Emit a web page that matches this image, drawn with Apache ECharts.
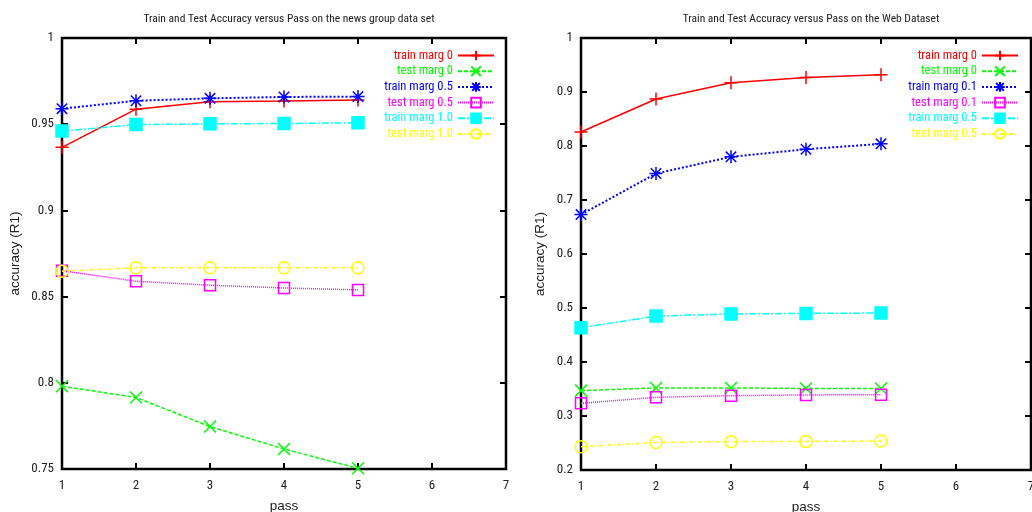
<!DOCTYPE html>
<html>
<head>
<meta charset="utf-8">
<script src="https://cdn.jsdelivr.net/npm/echarts@6/dist/echarts.min.js"></script>
<style>
  html, body { margin: 0; padding: 0; background: #fff; }
  #chart { width: 1032px; height: 512px; }
</style>
</head>
<body>
<div id="chart"></div>
<script>
// pass numbers (x)
var passes = [1, 2, 3, 4, 5];

// left: news group data set
var newsNames = ['train marg 0', 'test marg 0', 'train marg 0.5', 'test marg 0.5', 'train marg 1.0', 'test marg 1.0'];
var newsTrain0 = [0.9366, 0.9587, 0.9630, 0.9634, 0.9640];
var newsTest0 = [0.7980, 0.7915, 0.7746, 0.7616, 0.7504];
var newsTrain05 = [0.9590, 0.9636, 0.9650, 0.9658, 0.9660];
var newsTest05 = [0.8650, 0.8589, 0.8566, 0.8550, 0.8539];
var newsTrain10 = [0.9460, 0.9498, 0.9502, 0.9504, 0.9508];
var newsTest10 = [0.8647, 0.8667, 0.8667, 0.8667, 0.8667];

// right: web dataset
var webNames = ['train marg 0', 'test marg 0', 'train marg 0.1', 'test marg 0.1', 'train marg 0.5', 'test marg 0.5'];
var webTrain0 = [0.826, 0.887, 0.917, 0.927, 0.932];
var webTest0 = [0.347, 0.352, 0.352, 0.351, 0.351];
var webTrain01 = [0.673, 0.749, 0.780, 0.794, 0.804];
var webTest01 = [0.3235, 0.3346, 0.3377, 0.3390, 0.3395];
var webTrain05 = [0.4636, 0.485, 0.4889, 0.4900, 0.4907];
var webTest05 = [0.243, 0.251, 0.2525, 0.253, 0.2537];

var font = "'Roboto Condensed', Roboto, 'Liberation Sans', sans-serif";
var wideFont = "'Liberation Sans', Arial, sans-serif";
var colors = ['#ff0000', '#00ff00', '#0000ff', '#ff00ff', '#00ffff', '#ffff00'];
var dashes = ['solid', [4, 2], [2, 2], [1, 1], [7, 2, 2, 2], [4, 2, 1, 2]];
var widths = [1.5, 1.5, 2, 1.5, 1.5, 1.5];
var symbols = [
  'path://M0,5L10,5M5,0L5,10',
  'path://M0,0L10,10M10,0L0,10',
  'path://M0,5L10,5M5,0L5,10M1,1L9,9M9,1L1,9',
  'rect',
  'rect',
  'circle'
];
var fills = [null, null, null, 'rgba(0,0,0,0)', '#00ffff', 'rgba(0,0,0,0)'];
var sizes = [13, 12, 13, 11, 12, 12];

function pairs(vals) {
  return passes.map(function (p, i) { return [p, vals[i]]; });
}

// series names get a plot prefix so both legends keep their own icons
function makeSeries(prefix, names, lists, idx) {
  return names.map(function (n, i) {
    return {
      name: prefix + n,
      type: 'line',
      xAxisIndex: idx,
      yAxisIndex: idx,
      data: pairs(lists[i]),
      symbol: symbols[i],
      symbolSize: sizes[i],
      showAllSymbol: true,
      lineStyle: { color: colors[i], width: widths[i], type: dashes[i] },
      itemStyle: {
        color: fills[i] === null ? colors[i] : fills[i],
        borderColor: colors[i],
        borderWidth: 1.5
      },
      emphasis: { disabled: true },
      animation: false
    };
  });
}

function legendFor(prefix, names, right) {
  return {
    orient: 'vertical',
    right: right,
    top: 44,
    align: 'right',
    itemWidth: 36,
    itemHeight: 12,
    itemGap: 2.7,
    selectedMode: false,
    data: names.map(function (n, i) {
      return { name: prefix + n, textStyle: { color: colors[i] } };
    }),
    formatter: function (name) { return name.slice(prefix.length); },
    textStyle: { fontFamily: font, fontSize: 12.5 }
  };
}

var labelStyle = { color: '#222', fontFamily: font, fontSize: 13 };
var nameStyle = { color: '#222', fontFamily: wideFont, fontSize: 13.5 };

function bottomX(idx) {
  return {
    type: 'value', gridIndex: idx, min: 1, max: 7, interval: 1,
    name: 'pass', nameLocation: 'middle', nameGap: 30,
    nameTextStyle: nameStyle,
    axisLine: { show: false },
    axisTick: { inside: true, length: 6, lineStyle: { color: '#000', width: 2 } },
    axisLabel: Object.assign({ margin: 10 }, labelStyle),
    splitLine: { show: false }
  };
}
function topX(idx) {
  return {
    type: 'value', gridIndex: idx, position: 'top', min: 1, max: 7, interval: 1,
    axisLine: { show: false },
    axisTick: { inside: true, length: 6, lineStyle: { color: '#000', width: 2 } },
    axisLabel: { show: false },
    splitLine: { show: false }
  };
}
function leftY(idx, min, max, step, gap) {
  return {
    type: 'value', gridIndex: idx, min: min, max: max, interval: step,
    name: 'accuracy (R1)', nameLocation: 'middle', nameGap: gap,
    nameTextStyle: nameStyle,
    axisLine: { show: false },
    axisTick: { inside: true, length: 6, lineStyle: { color: '#000', width: 2 } },
    axisLabel: Object.assign({ margin: 8 }, labelStyle),
    splitLine: { show: false }
  };
}
function rightY(idx, min, max, step) {
  return {
    type: 'value', gridIndex: idx, position: 'right', min: min, max: max, interval: step,
    axisLine: { show: false },
    axisTick: { inside: true, length: 6, lineStyle: { color: '#000', width: 2 } },
    axisLabel: { show: false },
    splitLine: { show: false }
  };
}

var chart = echarts.init(document.getElementById('chart'));
var option = {
  backgroundColor: '#fff',
  animation: false,
  title: [
    { text: 'Train and Test Accuracy versus Pass on the news group data set', left: 284, top: 8, textAlign: 'center',
      textStyle: { fontFamily: font, fontSize: 11.5, fontWeight: 'normal', color: '#222' } },
    { text: 'Train and Test Accuracy versus Pass on the Web Dataset', left: 806, top: 8, textAlign: 'center',
      textStyle: { fontFamily: font, fontSize: 11.5, fontWeight: 'normal', color: '#222' } }
  ],
  legend: [legendFor('a:', newsNames, 532), legendFor('b:', webNames, 8)],
  grid: [
    { left: 62, top: 38, width: 444, height: 431, outerBoundsMode: 'none', show: true,
      borderColor: '#000', borderWidth: 2.5, backgroundColor: 'transparent' },
    { left: 581, top: 38, width: 450, height: 432, outerBoundsMode: 'none', show: true,
      borderColor: '#000', borderWidth: 2.5, backgroundColor: 'transparent' }
  ],
  xAxis: [bottomX(0), bottomX(1), topX(0), topX(1)],
  yAxis: [
    leftY(0, 0.75, 1, 0.05, 40),
    leftY(1, 0.2, 1, 0.1, 34),
    rightY(0, 0.75, 1, 0.05),
    rightY(1, 0.2, 1, 0.1)
  ],
  series: makeSeries('a:', newsNames, [newsTrain0, newsTest0, newsTrain05, newsTest05, newsTrain10, newsTest10], 0)
    .concat(makeSeries('b:', webNames, [webTrain0, webTest0, webTrain01, webTest01, webTrain05, webTest05], 1))
};
chart.setOption(option);
</script>
</body>
</html>
